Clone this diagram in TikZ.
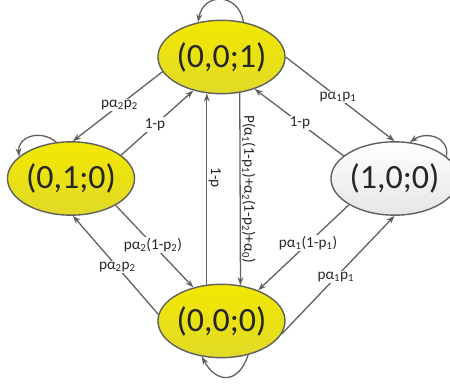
\documentclass[tikz,border=0pt]{standalone}
\usepackage{fontspec}
\setmainfont{Carlito}
\usetikzlibrary{shapes.geometric,arrows.meta}

\definecolor{statey}{RGB}{243,232,0}
\definecolor{stateyd}{RGB}{224,218,40}
\definecolor{linegray}{RGB}{96,96,96}
\definecolor{txtgray}{RGB}{38,38,38}

\newcommand{\sbs}[1]{\textsubscript{#1}}

\begin{document}
\begin{tikzpicture}[x=0.03cm,y=0.03cm,
  state/.style={ellipse,draw=linegray,line width=1.2pt,
    minimum width=3.33cm,minimum height=2.2cm,inner sep=0pt,
    font=\fontsize{29}{34}\selectfont,text=txtgray},
  busy/.style={state,top color=statey,bottom color=stateyd},
  idle/.style={state,top color=white,bottom color=black!10},
  trans/.style={draw=linegray,line width=1.1pt,-{Stealth[length=7pt,width=5pt]}},
  lbl/.style={fill=white,inner sep=1pt,font=\fontsize{13}{15}\selectfont,text=txtgray},
  vlbl/.style={lbl,fill=none,rotate=-90,anchor=south}]

\useasboundingbox (0,0) rectangle (450,386);

% States
\node[busy] (s001) at (221.5,329) {(0,0;1)};
\node[busy] (s010) at (71,207.5) {(0,1;0)};
\node[idle] (s100) at (394.5,207.5) {(1,0;0)};
\node[busy] (s000) at (221.5,65) {(0,0;0)};

% Left side
\draw[trans] (s001.194) -- node[lbl,pos=0.48] (l1) {pα\sbs{2}p\sbs{2}} (s010.87);
\draw[trans] (s010.25) -- node[lbl,pos=0.47] (l2) {1-p} (s001.230);
\draw[trans] (s010.-31) -- node[lbl,pos=0.48] (l3) {pα\sbs{2}(1-p\sbs{2})} (s000.130);
\draw[trans] (s000.174) -- node[lbl,pos=0.48] (l4) {pα\sbs{2}p\sbs{2}} (s010.-87);

% Middle
\draw[trans] (s000.112) -- node[vlbl,pos=0.56] (l5) {1-p} (s001.248);
\draw[trans] (s001.297) -- node[vlbl,pos=0.5] (l6)
  {P(α\sbs{1}(1-p\sbs{1})+α\sbs{2}(1-p\sbs{2})+α\sbs{0})} (s000.62);

% Right side
\draw[trans] (s001.0) -- node[lbl,pos=0.48] (l7) {pα\sbs{1}p\sbs{1}} (s100.90);
\draw[trans] (s100.156) -- node[lbl,pos=0.49] (l8) {1-p} (s001.316);
\draw[trans] (s100.210) -- node[lbl,pos=0.45] (l9) {pα\sbs{1}(1-p\sbs{1})} (s000.40);
\draw[trans] (s000.-12) -- node[lbl,pos=0.48] (l10) {pα\sbs{1}p\sbs{1}} (s100.270);

% Self loops
\draw[trans] (s001.58) to[out=100,in=80,looseness=1.7] (s001.124);
\draw[trans] (s010.112) to[out=140,in=95,looseness=1.3] (s010.157);
\draw[trans] (s100.23) to[out=80,in=35,looseness=1.3] (s100.67);
\draw[trans] (s000.-52) to[out=-108,in=-62,looseness=1.7] (s000.-119);

\end{tikzpicture}
\end{document}
